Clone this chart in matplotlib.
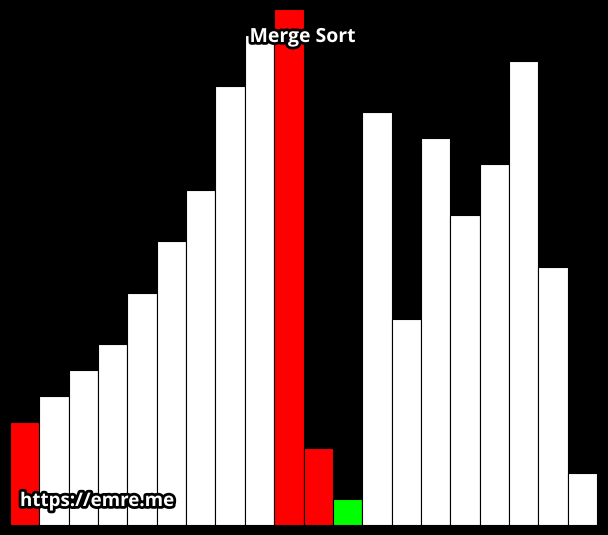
import matplotlib.pyplot as plt
import matplotlib.patheffects as pe

values = [4, 5, 6, 7, 9, 11, 13, 17, 19, 20, 3, 1, 16, 8, 15, 12, 14, 18, 10, 2]
colors = ['red', 'white', 'white', 'white', 'white', 'white', 'white', 'white', 'white', 'red',
          'red', 'lime', 'white', 'white', 'white', 'white', 'white', 'white', 'white', 'white']
title = "Merge Sort"
watermark = "https://emre.me"

fig = plt.figure(figsize=(6.08, 5.35), dpi=100, facecolor='black')
ax = fig.add_axes([10 / 608, 10 / 535, 587 / 608, 516 / 535])
ax.set_facecolor('black')

ax.bar(range(len(values)), values, width=1.0, color=colors, edgecolor='black', linewidth=0.8)
ax.set_xlim(-0.5, len(values) - 0.5)
ax.set_ylim(0, max(values))
ax.axis('off')

stroke = [pe.withStroke(linewidth=4, foreground='black')]
fig.text(303 / 608, 1 - 37 / 535, title, color='white', fontsize=14, fontweight='bold',
         family='Open Sans', ha='center', va='center', path_effects=stroke)
fig.text(20 / 608, 1 - 501 / 535, watermark, color='white', fontsize=13.5, fontweight='bold',
         family='Open Sans', ha='left', va='center', path_effects=stroke)

fig.savefig('out.png', dpi=100, facecolor='black')
